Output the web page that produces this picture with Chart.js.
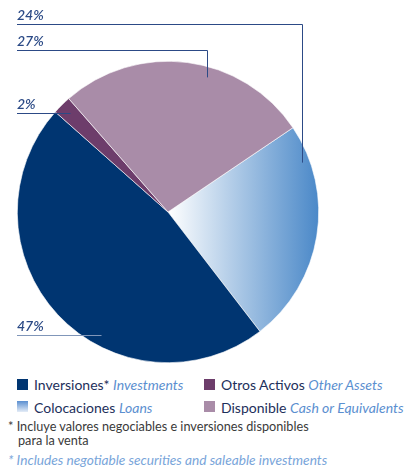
<!DOCTYPE html>
<html>
<head>
<meta charset="utf-8">
<script src="https://cdn.jsdelivr.net/npm/chart.js@4.4.1/dist/chart.umd.min.js"></script>
<style>
  html, body { margin: 0; padding: 0; background: #fff; }
  body { width: 407px; height: 468px; position: relative; overflow: hidden; font-family: 'Lato', 'Open Sans', sans-serif; }
  #wrap { position: absolute; left: 0; top: 0; width: 407px; height: 368px; }
  .leg { position: absolute; font-size: 14px; color: #1d2f5b; white-space: nowrap; line-height: 16px; }
  .leg i { color: #5b8fd0; }
  .sq { position: absolute; width: 11px; height: 11px; }
  .note { position: absolute; font-size: 12.7px; color: #3a3a3a; white-space: nowrap; line-height: 14px; }
  .note.en { color: #79a5da; font-style: italic; font-size: 13.7px; }
</style>
</head>
<body>
<div id="wrap"><canvas id="pie"></canvas></div>

<div class="sq" style="left:17px;top:379px;background:#003571"></div>
<div class="leg" style="left:34px;top:377px">Inversiones* <i>Investments</i></div>
<div class="sq" style="left:204px;top:379px;background:#6d3d6b"></div>
<div class="leg" style="left:221px;top:377px">Otros Activos <i>Other Assets</i></div>
<div class="sq" style="left:17px;top:401px;background:linear-gradient(#5b8fd0,#e4ecf7)"></div>
<div class="leg" style="left:34px;top:400px">Colocaciones <i>Loans</i></div>
<div class="sq" style="left:204px;top:401px;background:#a98ca8"></div>
<div class="leg" style="left:221px;top:400px">Disponible <i>Cash or Equivalents</i></div>

<div class="note" style="left:8px;top:419px">* Incluye valores negociables e inversiones disponibles</div>
<div class="note" style="left:18px;top:433px">para la venta</div>
<div class="note en" style="left:8px;top:453px">* Includes negotiable securities and saleable investments</div>

<script>
// data, in drawing order (clockwise)
const categories = ['Colocaciones', 'Inversiones', 'Otros Activos', 'Disponible'];
const shares = [24, 47, 2, 27];
const solidColors = [null, '#003571', '#6d3d6b', '#a98ca8'];

// where each leader line touches its slice (fraction along slice, fraction of radius)
// and the height of the label row
const leaderSpots = [[0.16, 0.95], [0.39, 0.93], [0.55, 0.93], [0.59, 0.93]];
const labelRows = [24, 335, 113, 50];

const leaderPlugin = {
  id: 'leaders',
  afterDraw(chart) {
    const ctx = chart.ctx;
    const arcs = chart.getDatasetMeta(0).data;
    ctx.save();
    ctx.font = 'italic 600 14px Lato, "Open Sans", sans-serif';
    arcs.forEach((arc, i) => {
      const a = arc.startAngle + (arc.endAngle - arc.startAngle) * leaderSpots[i][0];
      const r = arc.outerRadius * leaderSpots[i][1];
      const px = arc.x + Math.cos(a) * r;
      const py = arc.y + Math.sin(a) * r;
      const ly = labelRows[i];
      ctx.strokeStyle = i === 1 ? '#8096b9' : '#2c4a86';
      ctx.lineWidth = 1;
      ctx.beginPath();
      ctx.moveTo(17, ly + 0.5);
      ctx.lineTo(Math.round(px) + 0.5, ly + 0.5);
      if (Math.abs(py - ly) > 3) ctx.lineTo(Math.round(px) + 0.5, py);
      ctx.stroke();
      ctx.fillStyle = '#2b4a86';
      ctx.textBaseline = 'alphabetic';
      ctx.fillText(shares[i] + '%', 17, ly - 4);
    });
    ctx.restore();
  }
};

function sliceColor(context) {
  const i = context.dataIndex;
  if (solidColors[i]) return solidColors[i];
  const area = context.chart.chartArea;
  if (!area) return '#7ea8da';
  const cx = (area.left + area.right) / 2;
  const g = context.chart.ctx.createLinearGradient(cx, 0, area.right, 0);
  g.addColorStop(0, '#ffffff');
  g.addColorStop(1, '#4a88c8');
  return g;
}

new Chart(document.getElementById('pie'), {
  type: 'pie',
  data: {
    labels: categories,
    datasets: [{
      data: shares,
      backgroundColor: sliceColor,
      borderColor: '#ffffff',
      borderWidth: 0.6
    }]
  },
  options: {
    responsive: true,
    maintainAspectRatio: false,
    animation: false,
    rotation: 56,
    layout: { padding: { left: 17, right: 88, top: 61, bottom: 5 } },
    plugins: { legend: { display: false }, tooltip: { enabled: false } }
  },
  plugins: [leaderPlugin]
});
</script>
</body>
</html>
